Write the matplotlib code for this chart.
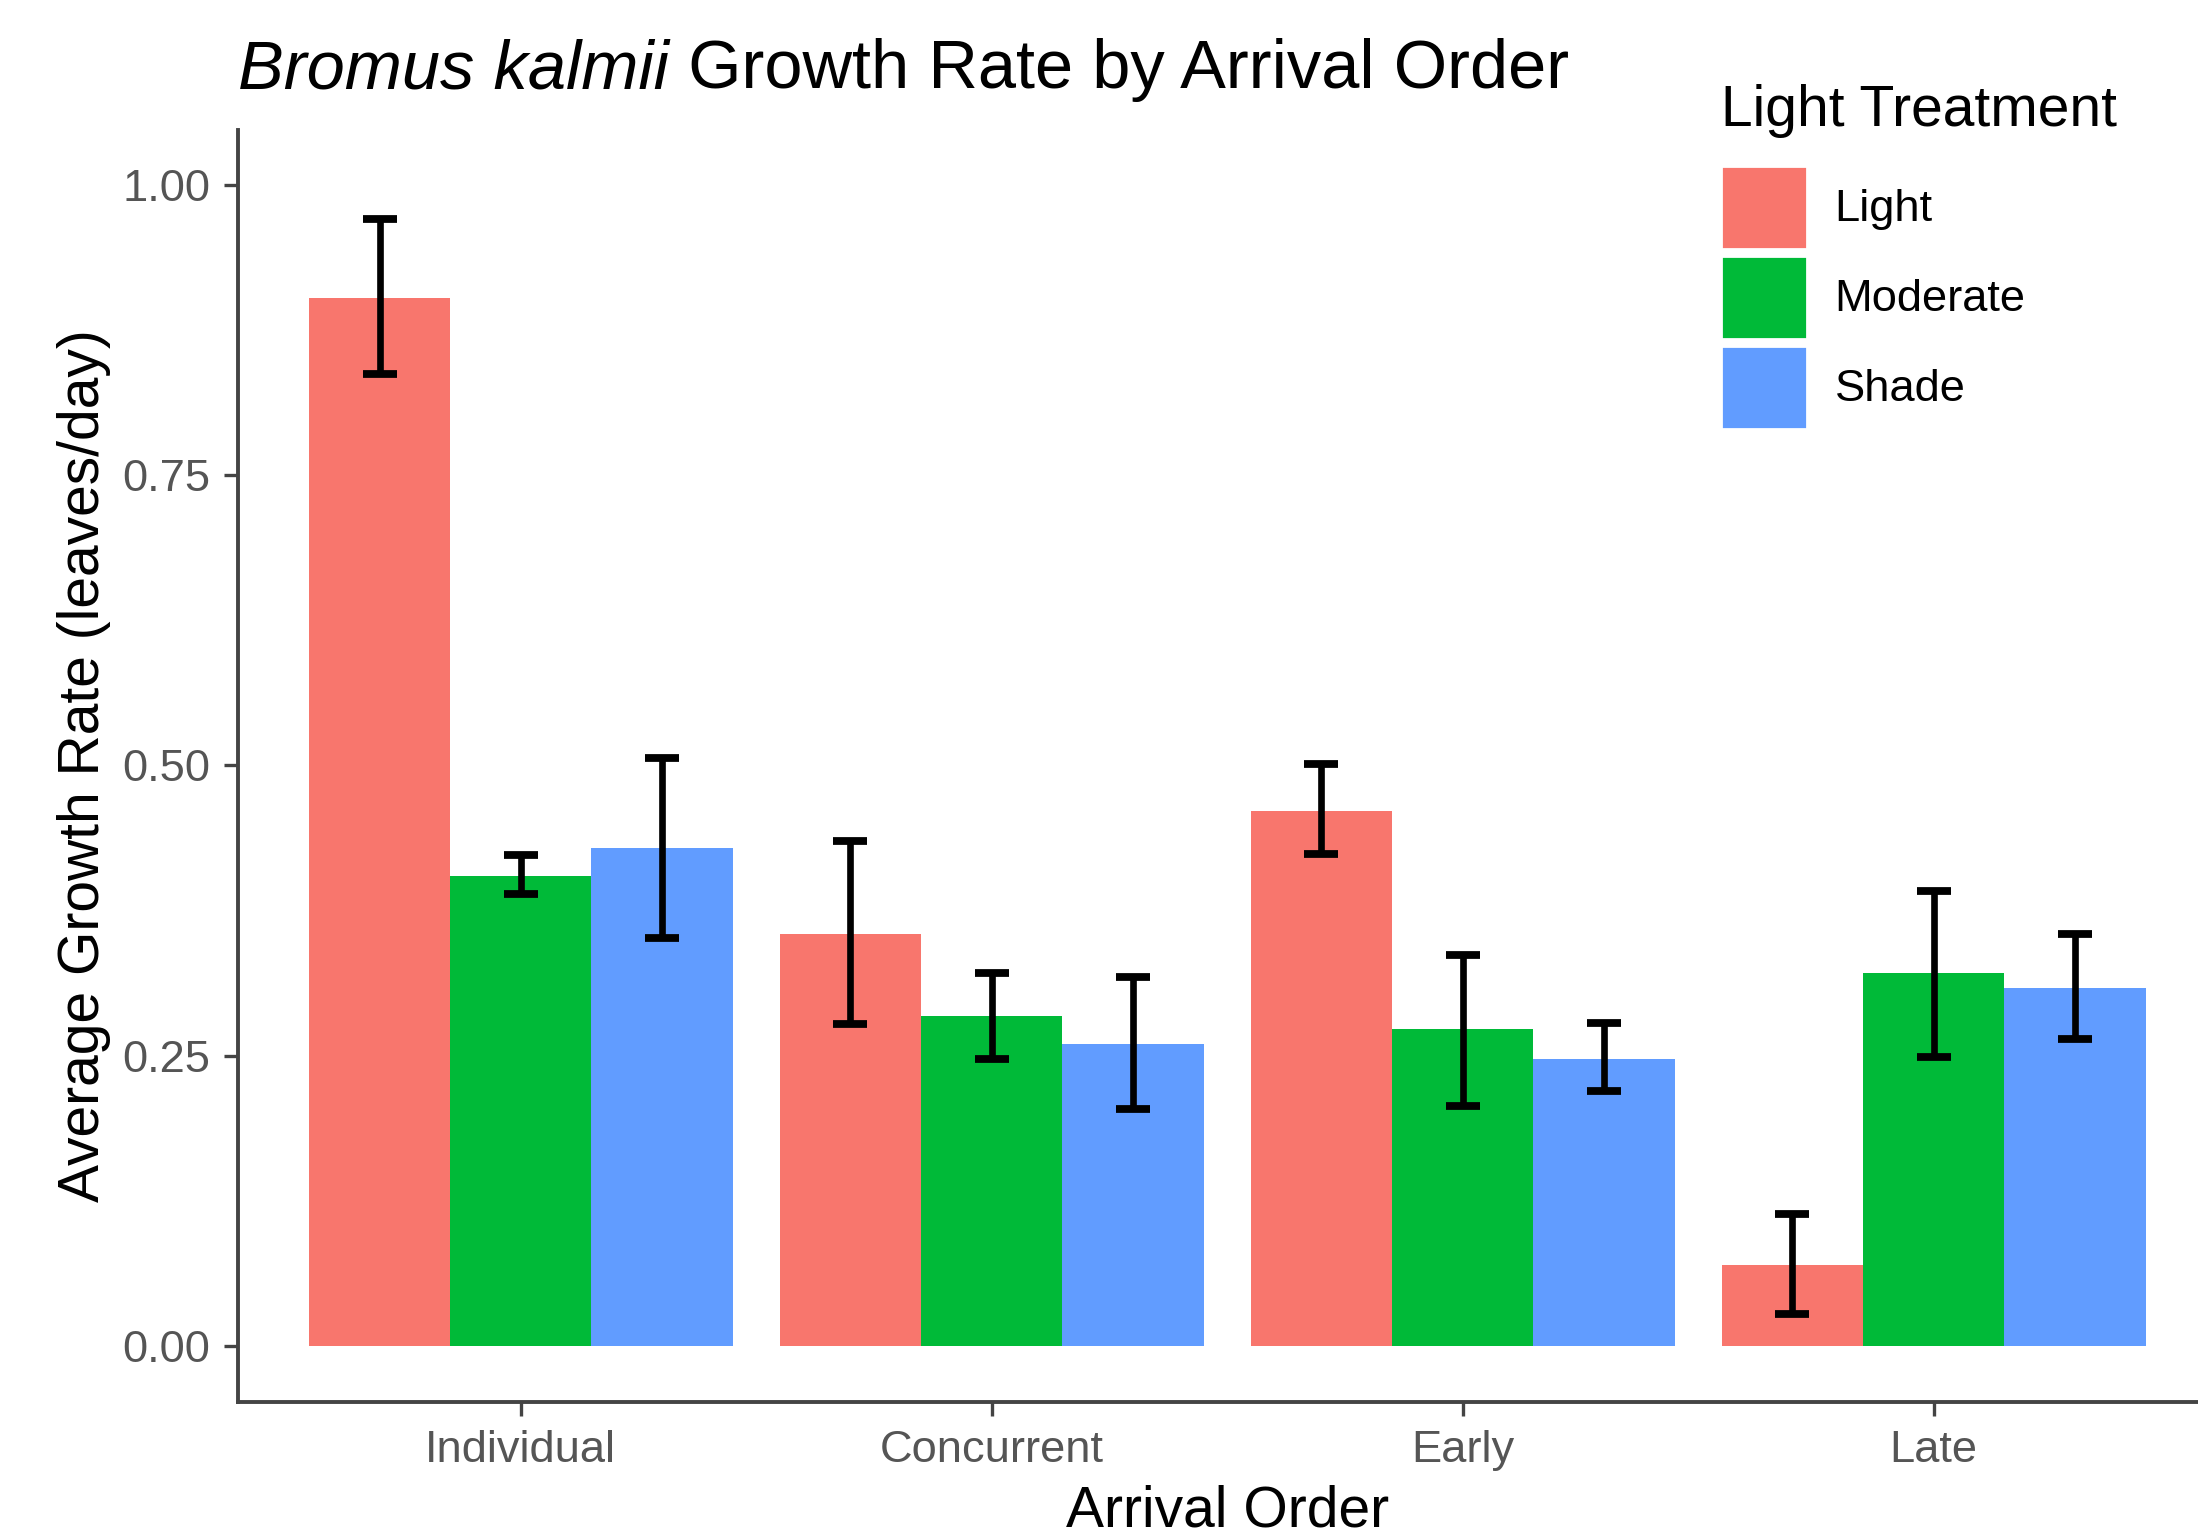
import matplotlib
matplotlib.use("Agg")
import matplotlib.pyplot as plt
from matplotlib.patches import Patch
import numpy as np

plt.rcParams['font.family'] = ['Liberation Sans', 'DejaVu Sans']

# data
arrival = ["Individual", "Concurrent", "Early", "Late"]
treatments = ["Light", "Moderate", "Shade"]
colors = ["#F8766D", "#00BA38", "#619CFF"]

light_mean = [0.903, 0.355, 0.461, 0.070]
light_lo = [0.837, 0.277, 0.424, 0.028]
light_hi = [0.971, 0.435, 0.501, 0.114]

moderate_mean = [0.405, 0.284, 0.273, 0.321]
moderate_lo = [0.389, 0.247, 0.207, 0.249]
moderate_hi = [0.423, 0.321, 0.337, 0.392]

shade_mean = [0.429, 0.260, 0.247, 0.308]
shade_lo = [0.351, 0.204, 0.220, 0.264]
shade_hi = [0.506, 0.318, 0.278, 0.355]

means = [light_mean, moderate_mean, shade_mean]
lows = [light_lo, moderate_lo, shade_lo]
highs = [light_hi, moderate_hi, shade_hi]

fig = plt.figure(figsize=(10.99, 7.675), dpi=200)
ax = fig.add_axes([0.1084, 0.0868, 1.0083 - 0.1084, 0.9151 - 0.0868])

x = np.arange(1, len(arrival) + 1)
w = 0.3
for i, t in enumerate(treatments):
  xs = x + (i - 1) * w
  m = np.array(means[i])
  ax.bar(xs, m, width=w, color=colors[i], label=t, zorder=2)
  err = [m - np.array(lows[i]), np.array(highs[i]) - m]
  ax.errorbar(xs, m, yerr=err, fmt='none', ecolor='black', elinewidth=2.4,
              capsize=6, capthick=2.8, zorder=3)

ax.set_xlim(0.4, 4.6)
ax.set_ylim(-0.048, 1.047)
ax.set_xticks(x)
ax.set_xticklabels(arrival)
ax.set_yticks([0, 0.25, 0.5, 0.75, 1.0])
ax.set_yticklabels(["0.00", "0.25", "0.50", "0.75", "1.00"])

for s in ['top', 'right']:
  ax.spines[s].set_visible(False)
for s in ['left', 'bottom']:
  ax.spines[s].set_linewidth(1.4)
  ax.spines[s].set_color('#444444')
ax.tick_params(axis='both', length=5, width=1.2, color='#444444',
               labelsize=16.3, labelcolor='#555555', pad=5)

ax.set_xlabel("Arrival Order", fontsize=20.5, labelpad=5)
ax.set_ylabel("Average Growth Rate (leaves/day)", fontsize=20.5, labelpad=4)

# title: italic species name + plain text
t1 = fig.text(0.1084, 0.9425, "Bromus kalmii", fontsize=24.7, style='italic',
              va='baseline', ha='left')
fig.canvas.draw()
r = fig.canvas.get_renderer()
bb = t1.get_window_extent(renderer=r)
x2 = fig.transFigure.inverted().transform((bb.x1, bb.y0))[0]
fig.text(x2, 0.9425, " Growth Rate by Arrival Order", fontsize=24.7,
         va='baseline', ha='left')

# legend: title drawn separately so the gap above the keys can match
fig.text(0.7832, 0.9178, "Light Treatment", fontsize=20.5,
         va='baseline', ha='left')
handles = [Patch(facecolor=c, edgecolor='white', linewidth=1.0) for c in colors]
leg = fig.legend(handles, treatments,
                 loc='upper left', bbox_to_anchor=(0.7832, 0.892),
                 frameon=False, fontsize=16.3,
                 handlelength=1.88, handleheight=2.44, labelspacing=0.16,
                 handletextpad=0.62, borderpad=0, borderaxespad=0)

fig.savefig("out.png", dpi=200)
